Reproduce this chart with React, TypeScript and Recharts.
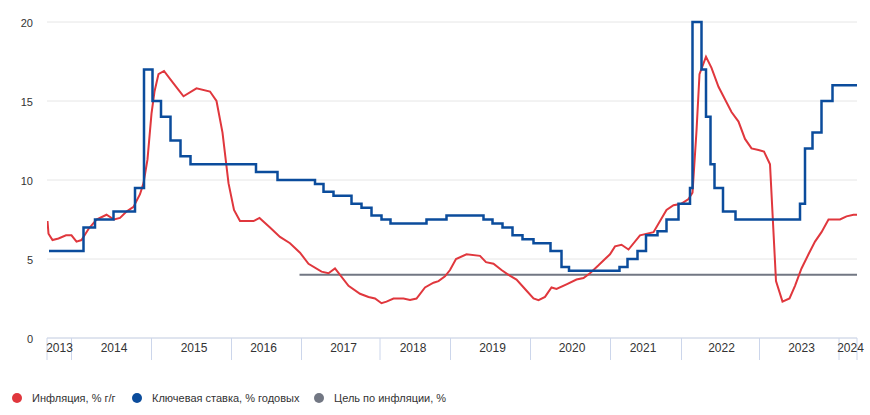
import React from 'react';
import { LineChart, Line, XAxis, YAxis, CartesianGrid } from 'recharts';

// x positions are ordinal slots along the axis (0..162), y values in %
const inflPos = [0.1, 0.3, 1.1, 2.3, 3.8, 4.9, 5.9, 6.9, 8.3, 9.9, 11.9, 13.4, 14.6, 15.9, 17.3, 18.6, 19.3, 20.1, 20.9, 21.5, 22.3, 23.4, 24.6, 26.3, 27.3, 29.9, 32.6, 33.9, 35.1, 36.3, 37.4, 38.6, 41.3, 42.5, 44.6, 46.6, 48.6, 50.6, 52.3, 54.9, 56.3, 57.6, 60.3, 62.6, 64.3, 65.6, 66.9, 67.9, 69.3, 71.3, 72.6, 73.9, 75.6, 77.3, 78.3, 79.6, 80.6, 81.8, 83.9, 86.6, 87.8, 89.3, 90.9, 92.3, 93.9, 95.6, 97.3, 98.3, 99.6, 100.9, 101.9, 103.9, 105.9, 107.3, 108.6, 110.3, 111.6, 112.6, 113.6, 114.9, 116.3, 118.6, 121.3, 123.9, 125.3, 126.9, 128.3, 129.1, 129.9, 130.5, 131.8, 132.9, 134.3, 136.9, 138.3, 139.6, 140.9, 142.3, 143.4, 144.6, 145.8, 147.1, 148.5, 149.6, 150.9, 152.3, 153.6, 154.9, 156.3, 157.4, 158.6, 159.9, 161.3, 162];
const inflVals = [7.4, 6.6, 6.2, 6.3, 6.5, 6.5, 6.1, 6.2, 6.9, 7.5, 7.8, 7.5, 7.6, 8.0, 8.3, 9.1, 9.8, 11.3, 14.2, 15.6, 16.7, 16.9, 16.4, 15.7, 15.3, 15.8, 15.6, 15.0, 13.0, 9.8, 8.1, 7.4, 7.4, 7.6, 7.0, 6.4, 6.0, 5.4, 4.7, 4.2, 4.1, 4.4, 3.3, 2.8, 2.6, 2.5, 2.2, 2.3, 2.5, 2.5, 2.4, 2.5, 3.2, 3.5, 3.6, 3.9, 4.3, 5.0, 5.3, 5.2, 4.8, 4.7, 4.3, 4.0, 3.7, 3.1, 2.5, 2.4, 2.6, 3.2, 3.1, 3.4, 3.7, 3.8, 4.1, 4.6, 5.0, 5.3, 5.8, 5.9, 5.6, 6.5, 6.7, 8.1, 8.4, 8.5, 8.8, 9.2, 13.1, 16.7, 17.8, 17.1, 15.9, 14.3, 13.7, 12.6, 12.0, 11.9, 11.8, 11.0, 3.6, 2.3, 2.5, 3.3, 4.4, 5.3, 6.1, 6.7, 7.5, 7.5, 7.5, 7.7, 7.8, 7.8];

const ratePos = [0.4, 7.3, 9.6, 13.3, 17.6, 19.4, 21.1, 22.8, 24.7, 26.7, 28.7, 41.8, 46.1, 53.6, 55.3, 57.3, 60.9, 62.9, 64.9, 66.9, 68.7, 75.9, 79.9, 87.3, 89.1, 91.1, 93.1, 95.1, 97.3, 100.7, 102.9, 104.4, 114.5, 116.1, 118.1, 119.8, 122.1, 123.9, 126.3, 128.6, 129.1, 130.9, 131.8, 132.7, 133.5, 135.2, 137.7, 150.6, 151.6, 153.1, 154.9, 157.1, 162];
const rateVals = [5.5, 7.0, 7.5, 8.0, 9.5, 17, 15, 14, 12.5, 11.5, 11, 10.5, 10, 9.75, 9.25, 9.0, 8.5, 8.25, 7.75, 7.5, 7.25, 7.5, 7.75, 7.5, 7.25, 7.0, 6.5, 6.25, 6.0, 5.5, 4.5, 4.25, 4.5, 5.0, 5.5, 6.5, 6.75, 7.5, 8.5, 9.5, 20, 17, 14, 11, 9.5, 8, 7.5, 8.5, 12, 13, 15, 16, 16];

const targetPos = [50.5, 162];
const targetVals = [4, 4];

const yearBounds = [0, 4.9, 20.9, 36.9, 50.9, 66.6, 80.7, 96.7, 112.7, 126.9, 142.5, 158.4, 162];
const yearLabelPos = [2.5, 13.4, 29.4, 43.3, 59.3, 73.2, 89.1, 105, 119.2, 134.9, 150.9, 160.7];
const yearLabels = ['2013', '2014', '2015', '2016', '2017', '2018', '2019', '2020', '2021', '2022', '2023', '2024'];
const yTicks = [0, 5, 10, 15, 20];

const COLORS = { infl: '#e0373d', rate: '#0b4c9c', target: '#727783' };
const FONT = '"Liberation Sans", Arial, sans-serif';

const toRows = (xs: number[], ys: number[]) => xs.map((u, i) => ({ u, v: ys[i] }));
const inflData = toRows(inflPos, inflVals);
const rateData = toRows(ratePos, rateVals);
const targetData = toRows(targetPos, targetVals);

const legendItems = [
  { label: 'Инфляция, % г/г', color: COLORS.infl, left: 12 },
  { label: 'Ключевая ставка, % годовых', color: COLORS.rate, left: 132 },
  { label: 'Цель по инфляции, %', color: COLORS.target, left: 314 },
];

// boundary axis only draws tick lines, no labels
const EmptyTick = () => <g />;

export default function App() {
  return (
    <div style={{ position: 'relative', width: 870, height: 415, background: '#fff', fontFamily: FONT }}>
      <style>{'body{margin:0}'}</style>
      <LineChart width={870} height={370} margin={{ top: 22, right: 13, left: 0, bottom: 0 }}>
        <CartesianGrid vertical={false} stroke="#e6e6e6" />
        <XAxis
          dataKey="u"
          type="number"
          domain={[0, 162]}
          ticks={yearBounds}
          interval={0}
          height={1}
          tick={EmptyTick}
          tickSize={22}
          tickLine={{ stroke: '#ccd6eb' }}
          axisLine={{ stroke: '#ccd6eb' }}
          allowDataOverflow
        />
        <XAxis
          xAxisId="labels"
          dataKey="u"
          type="number"
          domain={[0, 162]}
          ticks={yearLabelPos}
          interval={0}
          height={31}
          tickSize={0}
          tickMargin={4}
          tickLine={false}
          axisLine={false}
          tickFormatter={(_v: number, i: number) => yearLabels[i]}
          tick={{ fill: '#333333', fontSize: 12, fontFamily: FONT }}
          allowDataOverflow
        />
        <YAxis
          type="number"
          domain={[0, 20]}
          ticks={yTicks}
          interval={0}
          width={47}
          tickSize={0}
          tickMargin={14}
          axisLine={false}
          tickLine={false}
          tick={{ fill: '#333333', fontSize: 11, fontFamily: FONT, dy: 1 }}
        />
        <Line
          data={targetData}
          dataKey="v"
          type="linear"
          stroke={COLORS.target}
          strokeWidth={2}
          dot={false}
          isAnimationActive={false}
        />
        <Line
          data={inflData}
          dataKey="v"
          type="linear"
          stroke={COLORS.infl}
          strokeWidth={2}
          dot={false}
          isAnimationActive={false}
        />
        <Line
          data={rateData}
          dataKey="v"
          type="stepAfter"
          stroke={COLORS.rate}
          strokeWidth={2.5}
          dot={false}
          isAnimationActive={false}
        />
      </LineChart>
      {legendItems.map((it) => (
        <div
          key={it.label}
          style={{
            position: 'absolute',
            left: it.left,
            top: 390,
            height: 16,
            display: 'flex',
            alignItems: 'center',
            fontSize: 11,
            color: '#333333',
            whiteSpace: 'nowrap',
          }}
        >
          <span
            style={{
              display: 'inline-block',
              width: 10,
              height: 10,
              borderRadius: '50%',
              background: it.color,
              marginRight: 10,
            }}
          />
          {it.label}
        </div>
      ))}
    </div>
  );
}
